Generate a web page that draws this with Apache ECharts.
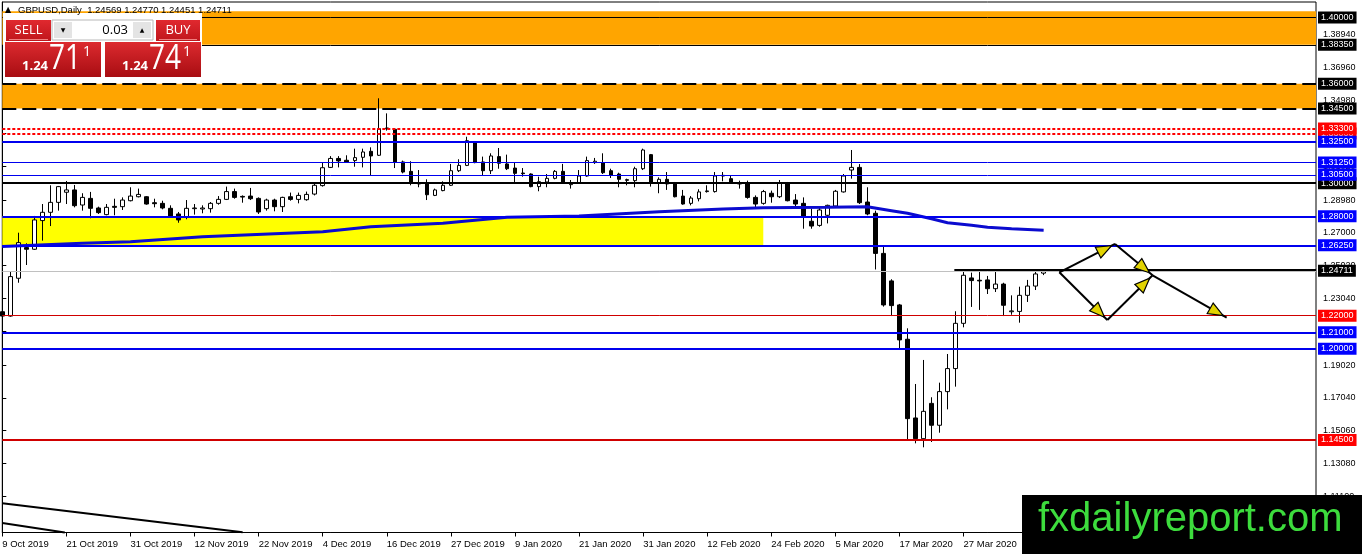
<!DOCTYPE html>
<html>
<head>
<meta charset="utf-8">
<title>GBPUSD Daily</title>
<script src="https://cdn.jsdelivr.net/npm/echarts@6/dist/echarts.min.js"></script>
<style>
  html, body { margin: 0; padding: 0; background: #fff; }
  #chart { width: 1362px; height: 554px; }
</style>
</head>
<body>
<div id="chart"></div>
<script>
// daily bars from 9 Oct 2019, one entry per trading day
const opens = [
  1.2224, 1.2198, 1.2426, 1.2611, 1.2601, 1.2774, 1.2824, 1.2884, 1.2945, 1.2959,
  1.2868, 1.2908, 1.2850, 1.2810, 1.2860, 1.2858, 1.2894, 1.2918, 1.2918, 1.2882,
  1.2878, 1.2848, 1.2814, 1.2794, 1.2846, 1.2844, 1.2846, 1.2878, 1.2902, 1.2949,
  1.2920, 1.2922, 1.2908, 1.2846, 1.2898, 1.2858, 1.2918, 1.2902, 1.2900, 1.2934,
  1.2985, 1.3095, 1.3149, 1.3138, 1.3136, 1.3156, 1.3192, 1.3168, 1.3333, 1.3325,
  1.3128, 1.3071, 1.3003, 1.2999, 1.2926, 1.2955, 1.2987, 1.3075, 1.3107, 1.3244,
  1.3128, 1.3075, 1.3160, 1.3116, 1.3091, 1.3061, 1.3055, 1.2979, 1.3007, 1.3029,
  1.3071, 1.2991, 1.3003, 1.3043, 1.3124, 1.3124, 1.3075, 1.3055, 1.3021, 1.3015,
  1.3087, 1.3172, 1.2999, 1.3023, 1.3003, 1.2922, 1.2878, 1.2906, 1.2949, 1.2949,
  1.3043, 1.3027, 1.2999, 1.2999, 1.2914, 1.2878, 1.2939, 1.2918, 1.3003, 1.2898,
  1.2878, 1.2770, 1.2745, 1.2806, 1.2862, 1.2947, 1.3079, 1.3095, 1.2886, 1.2818,
  1.2576, 1.2410, 1.2265, 1.2058, 1.1583, 1.1458, 1.1671, 1.1539, 1.1742, 1.1881,
  1.2154, 1.2428, 1.2414, 1.2416, 1.2363, 1.2391, 1.2224, 1.2226, 1.2323, 1.2379,
  1.24569
];
const highs = [
  1.2285, 1.2466, 1.2701, 1.2637, 1.2802, 1.2874, 1.2987, 1.2983, 1.3013, 1.2989,
  1.2939, 1.2947, 1.2858, 1.2874, 1.2906, 1.2914, 1.2975, 1.2967, 1.2922, 1.2906,
  1.2894, 1.2866, 1.2826, 1.2898, 1.2874, 1.2866, 1.2886, 1.2922, 1.2979, 1.2967,
  1.2926, 1.2971, 1.2914, 1.2906, 1.2906, 1.2918, 1.2943, 1.2943, 1.2949, 1.2995,
  1.3124, 1.3163, 1.3163, 1.3168, 1.3208, 1.3208, 1.3216, 1.3512, 1.3421, 1.3329,
  1.3136, 1.3132, 1.3079, 1.3023, 1.2967, 1.3011, 1.3116, 1.3144, 1.3280, 1.3248,
  1.3160, 1.3180, 1.3212, 1.3172, 1.3124, 1.3091, 1.3059, 1.3039, 1.3055, 1.3079,
  1.3116, 1.3019, 1.3079, 1.3160, 1.3152, 1.3180, 1.3087, 1.3063, 1.3027, 1.3099,
  1.3208, 1.3176, 1.3035, 1.3067, 1.3007, 1.2959, 1.2922, 1.2963, 1.2987, 1.3067,
  1.3067, 1.3047, 1.3015, 1.3015, 1.2926, 1.2959, 1.2955, 1.3019, 1.3007, 1.2934,
  1.2914, 1.2846, 1.2850, 1.2870, 1.2959, 1.3055, 1.3200, 1.3115, 1.2975, 1.2834,
  1.2621, 1.2420, 1.2271, 1.2124, 1.1788, 1.1933, 1.1708, 1.1796, 1.1969, 1.2227,
  1.2476, 1.2460, 1.2472, 1.2440, 1.2472, 1.2399, 1.2323, 1.2375, 1.2416, 1.2472,
  1.24770
];
const lows = [
  1.2194, 1.2194, 1.2399, 1.2506, 1.2597, 1.2653, 1.2741, 1.2834, 1.2874, 1.2854,
  1.2834, 1.2788, 1.2814, 1.2806, 1.2806, 1.2838, 1.2890, 1.2914, 1.2870, 1.2854,
  1.2842, 1.2794, 1.2761, 1.2782, 1.2810, 1.2818, 1.2822, 1.2870, 1.2898, 1.2906,
  1.2882, 1.2898, 1.2814, 1.2834, 1.2830, 1.2826, 1.2894, 1.2878, 1.2894, 1.2926,
  1.2979, 1.3091, 1.3095, 1.3124, 1.3099, 1.3095, 1.3047, 1.3164, 1.3317, 1.3091,
  1.3059, 1.2987, 1.2975, 1.2898, 1.2922, 1.2951, 1.2983, 1.3067, 1.3103, 1.3120,
  1.3047, 1.3055, 1.3087, 1.3079, 1.3007, 1.3039, 1.2975, 1.2951, 1.2975, 1.3023,
  1.2999, 1.2967, 1.2995, 1.3039, 1.3116, 1.3055, 1.3031, 1.2975, 1.2987, 1.2975,
  1.3079, 1.2979, 1.2939, 1.2959, 1.2914, 1.2870, 1.2866, 1.2890, 1.2943, 1.2943,
  1.3011, 1.2995, 1.2967, 1.2906, 1.2846, 1.2870, 1.2882, 1.2910, 1.2890, 1.2858,
  1.2725, 1.2725, 1.2737, 1.2757, 1.2854, 1.2943, 1.3027, 1.2874, 1.2806, 1.2479,
  1.2255, 1.2198, 1.2003, 1.1454, 1.1430, 1.1406, 1.1438, 1.1494, 1.1635, 1.1772,
  1.2130, 1.2253, 1.2235, 1.2331, 1.2343, 1.2198, 1.2206, 1.2158, 1.2283, 1.2355,
  1.24451
];
const closes = [
  1.2198, 1.2436, 1.2641, 1.2601, 1.2778, 1.2824, 1.2884, 1.2979, 1.2959, 1.2864,
  1.2914, 1.2848, 1.2822, 1.2854, 1.2854, 1.2898, 1.2922, 1.2932, 1.2874, 1.2876,
  1.2850, 1.2802, 1.2778, 1.2848, 1.2850, 1.2850, 1.2878, 1.2902, 1.2949, 1.2914,
  1.2916, 1.2906, 1.2826, 1.2898, 1.2858, 1.2914, 1.2902, 1.2926, 1.2932, 1.2987,
  1.3093, 1.3149, 1.3134, 1.3128, 1.3154, 1.3188, 1.3164, 1.3329, 1.3329, 1.3128,
  1.3067, 1.3007, 1.2995, 1.2930, 1.2959, 1.2987, 1.3075, 1.3107, 1.3256, 1.3124,
  1.3075, 1.3164, 1.3120, 1.3087, 1.3059, 1.3057, 1.2979, 1.3009, 1.3029, 1.3071,
  1.3003, 1.3003, 1.3043, 1.3136, 1.3132, 1.3063, 1.3047, 1.3023, 1.3017, 1.3087,
  1.3200, 1.2999, 1.3023, 1.2995, 1.2918, 1.2874, 1.2910, 1.2947, 1.2953, 1.3043,
  1.3047, 1.2999, 1.2995, 1.2914, 1.2874, 1.2949, 1.2918, 1.3003, 1.2894, 1.2874,
  1.2802, 1.2741, 1.2838, 1.2866, 1.2951, 1.3043, 1.3095, 1.2882, 1.2814, 1.2576,
  1.2265, 1.2261, 1.2054, 1.1579, 1.1458, 1.1623, 1.1539, 1.1742, 1.1881, 1.2154,
  1.2444, 1.2412, 1.2410, 1.2363, 1.2391, 1.2263, 1.2229, 1.2323, 1.2379, 1.2452,
  1.24711
];

// moving average, read at a few bars
const maBars   = [0, 10, 16, 25, 40, 46, 55, 63, 72, 82, 90, 95, 103, 108, 111, 113, 116, 118, 121, 123, 126, 130];
const maValues = [1.2618, 1.2637, 1.2647, 1.2677, 1.2707, 1.2737, 1.2758, 1.2794, 1.2802, 1.2828, 1.2844, 1.2852,
                  1.2854, 1.2858, 1.2834, 1.2818, 1.2785, 1.2761, 1.2746, 1.2734, 1.2725, 1.2715];

// x axis labels, one every 8 bars
const tickLabels = ['9 Oct 2019', '21 Oct 2019', '31 Oct 2019', '12 Nov 2019', '22 Nov 2019', '4 Dec 2019',
  '16 Dec 2019', '27 Dec 2019', '9 Jan 2020', '21 Jan 2020', '31 Jan 2020', '12 Feb 2020', '24 Feb 2020',
  '5 Mar 2020', '17 Mar 2020', '27 Mar 2020'];
const priceTicks = [1.38940, 1.36960, 1.34980, 1.33000, 1.31020, 1.28980, 1.27000, 1.25020, 1.23040,
  1.21060, 1.19020, 1.17040, 1.15060, 1.13080, 1.11100];

// drawn levels
const blackLevels = [1.40, 1.3835, 1.30];
const dashedLevels = [1.36, 1.345];
const dottedLevels = [1.33, 1.333];
const blueLevels = [1.325, 1.3125, 1.305, 1.28, 1.2625, 1.21, 1.20];
const redLevels = [1.22, 1.145];
const resistance = [118.85, 1.2478];
const bands = [[1.3835, 1.4037], [1.345, 1.36]];
const supplyZone = [0, 95, 1.2625, 1.28];
// trend lines lower left: [bar1, price1, bar2, price2]
const trendLines = [[0, 1.1069, 30, 1.0893], [0, 1.0949, 7.8, 1.0892]];
// scenario arrows: [bar1, price1, bar2, price2]
const arrows = [
  [131.96, 1.2462, 138.91, 1.2633],
  [138.91, 1.2633, 143.6, 1.2444],
  [131.96, 1.2462, 137.95, 1.2174],
  [137.95, 1.2174, 143.6, 1.2444],
  [143.6, 1.2444, 152.85, 1.2188]
];
const askPrice = 1.24741;
const lotSize = '0.03';

const FONT = 'Liberation Sans';
const last = closes.length - 1;
const thinLevels = [1.3125, 1.305, 1.22, 1.40, 1.3835];

const candles = opens.map((o, i) => [i, o, closes[i], lows[i], highs[i]]);
const maLine = maBars.map((b, i) => [b, maValues[i]]);

function level(price, color, bg, type) {
  return {
    yAxis: price,
    lineStyle: { color: color, width: thinLevels.includes(price) ? 1 : 2, type: type || 'solid' },
    label: bg ? { show: true, backgroundColor: bg, formatter: price.toFixed(5) } : { show: false }
  };
}

const levelLines = [].concat(
  dottedLevels.map(p => level(p, '#ff0000', '#ff0000', [3, 2])),
  blackLevels.map(p => level(p, '#000', '#000')),
  dashedLevels.map(p => level(p, '#000', '#000', [14, 6])),
  blueLevels.map(p => level(p, '#0000ee', '#0000ff')),
  redLevels.map(p => level(p, '#d00000', '#ff0000')),
  [{ yAxis: closes[last], lineStyle: { color: '#c0c0c0', width: 1, type: 'solid' },
     label: { show: true, backgroundColor: '#000', formatter: closes[last].toFixed(5) } }],
  [[{ coord: [resistance[0], resistance[1]], lineStyle: { color: '#000', width: 2, type: 'solid' }, label: { show: false } },
    { coord: [164, resistance[1]] }]],
  trendLines.map(t => [
    { coord: [t[0], t[1]], lineStyle: { color: '#000', width: 2, type: 'solid' }, label: { show: false } },
    { coord: [t[2], t[3]] }
  ])
);

const chart = echarts.init(document.getElementById('chart'), null, { renderer: 'canvas' });

const PZ = 120;  // trading panel sits above the chart
function redFill(top, bottom) {
  return new echarts.graphic.LinearGradient(0, 0, 0, 1, [{ offset: 0, color: top }, { offset: 1, color: bottom }]);
}
function split(p) {
  const s = p.toFixed(5);
  return [s.slice(0, 4), s.slice(4, 6), s.slice(6)];
}
function pricePanel(x, p) {
  const parts = split(p);
  return [
    { type: 'rect', z: PZ, shape: { x: x, y: 42, width: 96, height: 35 }, style: { fill: redFill('#dc2a2f', '#a80d12') } },
    { type: 'text', z: PZ + 1, style: { x: x + 17, y: 66, text: parts[0], fill: '#fff', font: 'bold 13px "Open Sans"', verticalAlign: 'middle' } },
    { type: 'text', z: PZ + 1, x: x + 44, y: 59, scaleX: 0.8, style: { x: 0, y: 0, text: parts[1], fill: '#fff', font: '35px "Open Sans"', verticalAlign: 'middle' } },
    { type: 'text', z: PZ + 1, style: { x: x + 78, y: 52, text: parts[2], fill: '#fff', font: '14px "Open Sans"', verticalAlign: 'middle' } }
  ];
}
function button(x, w, label) {
  return [
    { type: 'rect', z: PZ, shape: { x: x, y: 20, width: w, height: 21 }, style: { fill: redFill('#e0292f', '#c0161c') } },
    { type: 'rect', z: PZ + 1, shape: { x: x + 3, y: 39, width: w - 6, height: 1 }, style: { fill: '#f08080' } },
    { type: 'text', z: PZ + 1, style: { x: x + w / 2, y: 30, text: label, fill: '#fff', font: '13px "Open Sans"', align: 'center', verticalAlign: 'middle' } }
  ];
}
function spinner(x) {
  return [
    { type: 'rect', z: PZ, shape: { x: x, y: 20, width: 101, height: 20 }, style: { fill: '#fff', stroke: '#b8b8b8', lineWidth: 1 } },
    { type: 'rect', z: PZ + 1, shape: { x: x + 2, y: 22, width: 18, height: 16 }, style: { fill: '#e4e4e4' } },
    { type: 'rect', z: PZ + 1, shape: { x: x + 81, y: 22, width: 18, height: 16 }, style: { fill: '#e4e4e4' } },
    { type: 'text', z: PZ + 2, style: { x: x + 11, y: 30, text: '▼', fill: '#000', font: '6px "DejaVu Sans"', align: 'center', verticalAlign: 'middle' } },
    { type: 'text', z: PZ + 2, style: { x: x + 90, y: 30, text: '▲', fill: '#000', font: '6px "DejaVu Sans"', align: 'center', verticalAlign: 'middle' } },
    { type: 'text', z: PZ + 2, style: { x: x + 76, y: 30, text: lotSize, fill: '#000', font: '13px "Open Sans"', align: 'right', verticalAlign: 'middle' } }
  ];
}

const option = {
  animation: false,
  backgroundColor: '#fff',
  grid: {
    left: 2.3, top: 2, right: 46, bottom: 21.5,
    show: true, borderColor: '#000', borderWidth: 1, backgroundColor: '#fff',
    containLabel: false, outerBoundsMode: 'none'
  },
  xAxis: {
    type: 'value', min: 0, max: 164, interval: 8,
    axisLine: { show: true, lineStyle: { color: '#000', width: 1 } },
    axisTick: { show: true, length: 4, lineStyle: { color: '#000' } },
    splitLine: { show: false },
    axisLabel: {
      show: true, color: '#000', fontFamily: FONT, fontSize: 9.5, align: 'left', margin: 6.5,
      showMinLabel: true, showMaxLabel: false,
      formatter: v => (v % 8 === 0 && tickLabels[v / 8]) ? tickLabels[v / 8] : ''
    }
  },
  yAxis: {
    type: 'value', position: 'right', min: 1.08919, max: 1.40930,
    axisLine: { show: true, lineStyle: { color: '#000', width: 1 } },
    axisTick: { show: true, length: 4, customValues: priceTicks, lineStyle: { color: '#000' } },
    splitLine: { show: false },
    axisLabel: {
      show: true, color: '#000', fontFamily: FONT, fontSize: 9, margin: 7,
      customValues: priceTicks, formatter: v => v.toFixed(5)
    }
  },
  series: [
    {
      type: 'candlestick',
      name: 'GBPUSD',
      data: candles,
      encode: { x: 0, y: [1, 2, 3, 4] },
      barWidth: 4,
      clip: false,
      itemStyle: {
        color: '#fff', color0: '#000', borderColor: '#000', borderColor0: '#000',
        borderColorDoji: '#000', borderWidth: 1
      },
      markArea: {
        silent: true,
        label: { show: false },
        data: [
          [{ yAxis: bands[0][0], itemStyle: { color: '#ffa500' } }, { yAxis: bands[0][1] }],
          [{ yAxis: bands[1][0], itemStyle: { color: '#ffa500' } }, { yAxis: bands[1][1] }],
          [{ xAxis: supplyZone[0], yAxis: supplyZone[2], itemStyle: { color: '#ffff00' } },
           { xAxis: supplyZone[1], yAxis: supplyZone[3] }]
        ]
      },
      markLine: {
        silent: true,
        symbol: ['none', 'none'],
        precision: 5,
        label: {
          position: 'end', distance: 2, color: '#fff', fontFamily: FONT, fontSize: 9,
          padding: [1, 3, 1, 3], lineHeight: 10
        },
        data: levelLines
      }
    },
    {
      type: 'line',
      name: 'MA',
      data: maLine,
      showSymbol: false,
      symbol: 'none',
      lineStyle: { color: '#0b0bcf', width: 3 },
      z: 3
    },
    {
      type: 'custom',
      name: 'arrows',
      data: arrows,
      encode: { x: [0, 2], y: [1, 3] },
      clip: false,
      z: 6,
      renderItem: function (params, api) {
        const p1 = api.coord([api.value(0), api.value(1)]);
        const p2 = api.coord([api.value(2), api.value(3)]);
        const dx = p2[0] - p1[0], dy = p2[1] - p1[1];
        const len = Math.sqrt(dx * dx + dy * dy);
        const ux = dx / len, uy = dy / len;
        const tip = [p2[0] - ux * 4, p2[1] - uy * 4];
        const base = [tip[0] - ux * 15, tip[1] - uy * 15];
        const nx = -uy * 6, ny = ux * 6;
        return {
          type: 'group',
          children: [
            { type: 'line', shape: { x1: p1[0], y1: p1[1], x2: p2[0], y2: p2[1] },
              style: { stroke: '#000', lineWidth: 2 } },
            { type: 'polygon', shape: { points: [tip, [base[0] + nx, base[1] + ny], [base[0] - nx, base[1] - ny]] },
              style: { fill: '#e2d300', stroke: '#000', lineWidth: 1.2 } }
          ]
        };
      }
    }
  ],
  graphic: [].concat(
    [
      { type: 'rect', z: PZ - 1, shape: { x: 3, y: 13, width: 199, height: 65 }, style: { fill: '#fff' } },
      { type: 'text', z: PZ, style: { x: 5, y: 10, text: '▲', fill: '#000', font: '8px "DejaVu Sans"', verticalAlign: 'middle' } },
      { type: 'text', z: PZ, style: {
          x: 18, y: 10, fill: '#000', font: '9.5px "' + FONT + '"', verticalAlign: 'middle',
          text: 'GBPUSD,Daily  ' + [opens[last], highs[last], lows[last], closes[last]].map(v => v.toFixed(5)).join(' ')
      } }
    ],
    button(6, 45, 'SELL'),
    spinner(52),
    button(156, 44, 'BUY'),
    pricePanel(5, closes[last]),
    pricePanel(105, askPrice),
    [
      { type: 'rect', z: PZ + 10, shape: { x: 1022, y: 495, width: 340, height: 59 }, style: { fill: '#000' } },
      { type: 'text', z: PZ + 11, style: { x: 1038, y: 520, text: 'fxdailyreport.com', fill: '#3ddc3d', font: '40px "' + FONT + '"', verticalAlign: 'middle' } }
    ]
  )
};

chart.setOption(option);
</script>
</body>
</html>
